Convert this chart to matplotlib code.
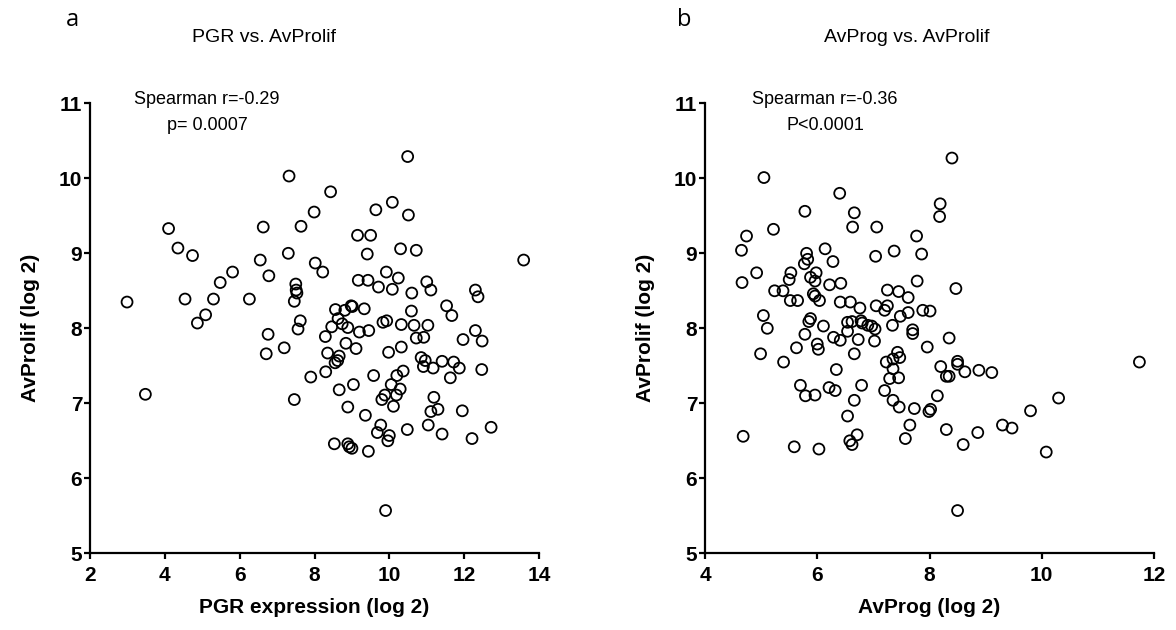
import numpy as np
import matplotlib
matplotlib.use('Agg')
import matplotlib.pyplot as plt

plt.rcParams['font.family'] = ['Liberation Sans', 'DejaVu Sans']

# panel a: PGR expression vs AvProlif
pgr_x = [7.32, 4.10, 6.63, 7.64, 4.35, 4.74, 7.30, 6.55, 5.81, 6.78, 5.48, 7.50, 7.51, 7.53, 7.46,
         2.99, 4.54, 5.30, 6.26, 5.09, 4.87, 7.62, 7.56, 6.76, 7.19, 6.71, 7.90, 3.48, 7.46, 10.49,
         8.43, 7.99, 10.08, 9.64, 10.51, 9.15, 9.50, 10.30, 10.72, 9.41, 13.59, 8.02, 8.22, 9.92, 9.17,
         9.43, 10.24, 11.00, 9.71, 10.08, 11.11, 10.60, 12.30, 12.37, 11.53, 11.67, 8.56, 8.81, 8.98, 9.01,
         9.33, 10.59, 8.63, 8.74, 8.89, 8.46, 9.83, 9.93, 10.32, 10.66, 11.03, 9.20, 9.45, 8.29, 12.30,
         11.97, 12.48, 10.72, 10.92, 8.84, 9.11, 8.35, 8.66, 9.98, 10.32, 8.55, 8.62, 8.30, 10.85, 10.96,
         10.91, 11.17, 11.41, 11.72, 11.87, 12.47, 11.63, 9.58, 10.37, 10.20, 10.05, 10.29, 10.19, 9.88, 9.80,
         10.11, 8.66, 9.04, 8.89, 9.36, 11.19, 11.11, 11.30, 11.95, 11.04, 10.48, 11.41, 12.21, 12.72, 9.77,
         9.68, 10.00, 9.96, 8.53, 8.89, 8.93, 9.00, 9.44, 9.90]
pgr_y = [10.03, 9.33, 9.35, 9.36, 9.07, 8.97, 9.00, 8.91, 8.75, 8.70, 8.61, 8.59, 8.51, 8.47, 8.36,
         8.35, 8.39, 8.39, 8.39, 8.18, 8.07, 8.10, 7.99, 7.92, 7.74, 7.66, 7.35, 7.12, 7.05, 10.29,
         9.82, 9.55, 9.68, 9.58, 9.51, 9.24, 9.24, 9.06, 9.04, 8.99, 8.91, 8.87, 8.75, 8.75, 8.64,
         8.64, 8.67, 8.62, 8.55, 8.52, 8.51, 8.47, 8.51, 8.42, 8.30, 8.17, 8.25, 8.24, 8.30, 8.29,
         8.26, 8.23, 8.13, 8.06, 8.01, 8.02, 8.08, 8.10, 8.05, 8.04, 8.04, 7.95, 7.97, 7.89, 7.97,
         7.85, 7.83, 7.87, 7.88, 7.80, 7.73, 7.67, 7.63, 7.68, 7.75, 7.54, 7.57, 7.42, 7.61, 7.57,
         7.49, 7.47, 7.56, 7.55, 7.47, 7.45, 7.34, 7.37, 7.43, 7.37, 7.25, 7.19, 7.11, 7.11, 7.05,
         6.96, 7.18, 7.25, 6.95, 6.84, 7.08, 6.89, 6.92, 6.90, 6.71, 6.65, 6.59, 6.53, 6.68, 6.71,
         6.61, 6.57, 6.50, 6.46, 6.46, 6.42, 6.40, 6.36, 5.57]

# panel b: AvProg vs AvProlif
prog_x = [5.05, 6.40, 5.78, 6.66, 6.63, 7.06, 4.74, 5.22, 4.65, 6.14, 5.81, 5.83, 5.77, 7.04, 6.28,
          4.92, 5.53, 5.50, 5.98, 5.88, 5.96, 4.66, 6.22, 6.42, 5.24, 5.39, 5.93, 5.96, 5.52, 5.65,
          6.04, 6.41, 6.59, 6.76, 7.05, 5.04, 5.11, 5.88, 5.85, 6.11, 6.54, 6.62, 6.78, 6.80, 6.90,
          6.97, 7.03, 6.54, 5.78, 6.29, 6.41, 6.73, 7.02, 6.00, 6.02, 5.63, 4.99, 6.66, 5.40, 6.34,
          5.70, 5.79, 5.96, 6.21, 6.32, 6.79, 6.66, 6.54, 6.71, 6.58, 6.62, 4.68, 5.59, 6.03, 8.40,
          8.19, 8.18, 7.77, 7.37, 7.86, 7.78, 8.47, 7.25, 7.45, 7.62, 7.25, 7.20, 7.62, 7.48, 7.88,
          8.01, 7.34, 7.70, 7.70, 8.35, 7.96, 7.43, 7.47, 7.35, 7.23, 7.35, 7.29, 7.45, 7.20, 7.35,
          7.46, 7.73, 7.99, 8.02, 8.14, 8.20, 8.50, 8.50, 8.30, 8.35, 8.63, 8.88, 9.11, 11.74, 10.30,
          9.80, 9.30, 9.47, 10.08, 8.86, 8.60, 8.30, 7.65, 7.57, 8.50]
prog_y = [10.01, 9.80, 9.56, 9.54, 9.35, 9.35, 9.23, 9.32, 9.04, 9.06, 9.00, 8.92, 8.86, 8.96, 8.89,
          8.74, 8.74, 8.65, 8.74, 8.68, 8.63, 8.61, 8.58, 8.60, 8.50, 8.50, 8.46, 8.43, 8.37, 8.37,
          8.37, 8.35, 8.35, 8.27, 8.30, 8.17, 8.00, 8.13, 8.09, 8.03, 8.08, 8.09, 8.10, 8.07, 8.04,
          8.03, 7.99, 7.96, 7.92, 7.88, 7.84, 7.85, 7.83, 7.79, 7.72, 7.74, 7.66, 7.66, 7.55, 7.45,
          7.24, 7.10, 7.11, 7.21, 7.17, 7.24, 7.04, 6.83, 6.58, 6.50, 6.45, 6.56, 6.42, 6.39, 10.27,
          9.66, 9.49, 9.23, 9.03, 8.99, 8.63, 8.53, 8.51, 8.49, 8.41, 8.30, 8.24, 8.21, 8.16, 8.24,
          8.23, 8.04, 7.98, 7.93, 7.87, 7.75, 7.68, 7.61, 7.59, 7.55, 7.46, 7.33, 7.34, 7.17, 7.04,
          6.95, 6.93, 6.89, 6.92, 7.10, 7.49, 7.56, 7.52, 7.36, 7.36, 7.42, 7.44, 7.41, 7.55, 7.07,
          6.90, 6.71, 6.67, 6.35, 6.61, 6.45, 6.65, 6.71, 6.53, 5.57]

yticks = [5, 6, 7, 8, 9, 10, 11]

fig = plt.figure(figsize=(11.76, 6.3), dpi=100)
ax1 = fig.add_axes([90 / 1176, 1 - 553.3 / 630, 449 / 1176, 450 / 630])
ax2 = fig.add_axes([705 / 1176, 1 - 553.3 / 630, 449 / 1176, 450 / 630])


def style(ax, xlim, xticks, xlabel):
    ax.set_xlim(*xlim)
    ax.set_ylim(5, 11)
    ax.set_xticks(xticks)
    ax.set_yticks(yticks)
    for s in ['top', 'right']:
        ax.spines[s].set_visible(False)
    for s in ['left', 'bottom']:
        ax.spines[s].set_linewidth(1.6)
    ax.tick_params(length=4.5, width=1.6, labelsize=15)
    ax.tick_params(axis='y', pad=1)
    ax.tick_params(axis='x', pad=5)
    for lab in ax.get_xticklabels() + ax.get_yticklabels():
        lab.set_fontweight('bold')
    ax.set_xlabel(xlabel, fontsize=15, fontweight='bold', labelpad=9)
    ax.set_ylabel('AvProlif (log 2)', fontsize=15, fontweight='bold', labelpad=14)


ax1.scatter(pgr_x, pgr_y, s=62, facecolors='none', edgecolors='black', linewidths=1.3, clip_on=False)
style(ax1, (2, 14), [2, 4, 6, 8, 10, 12, 14], 'PGR expression (log 2)')
ax2.scatter(prog_x, prog_y, s=62, facecolors='none', edgecolors='black', linewidths=1.3, clip_on=False)
style(ax2, (4, 12), [4, 6, 8, 10, 12], 'AvProg (log 2)')

# titles, panel letters and stats
fig.text(264 / 1176, 1 - 37 / 630, 'PGR vs. AvProlif', ha='center', va='center', fontsize=14)
fig.text(907 / 1176, 1 - 37 / 630, 'AvProg vs. AvProlif', ha='center', va='center', fontsize=14)
fig.text(72 / 1176, 1 - 20 / 630, 'a', ha='center', va='center', fontsize=17, family='Open Sans')
fig.text(684 / 1176, 1 - 20 / 630, 'b', ha='center', va='center', fontsize=17, family='Open Sans')
fig.text(207 / 1176, 1 - 100 / 630, 'Spearman r=-0.29', ha='center', va='center', fontsize=13)
fig.text(207 / 1176, 1 - 125 / 630, 'p= 0.0007', ha='center', va='center', fontsize=13)
fig.text(825 / 1176, 1 - 100 / 630, 'Spearman r=-0.36', ha='center', va='center', fontsize=13)
fig.text(825 / 1176, 1 - 125 / 630, 'P<0.0001', ha='center', va='center', fontsize=13)

fig.savefig('out.png', dpi=100)
